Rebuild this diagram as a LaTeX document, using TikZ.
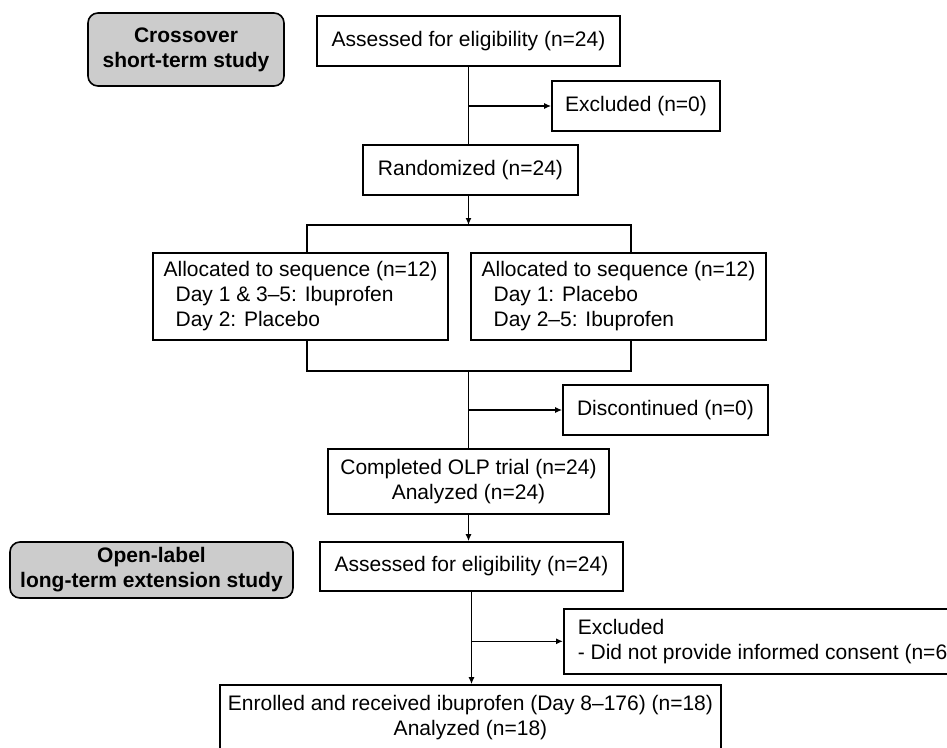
\documentclass[tikz,border=0pt]{standalone}
\usepackage{fontspec}
\setmainfont{Liberation Sans}
\usetikzlibrary{arrows.meta}

\begin{document}
\begin{tikzpicture}[x=1pt, y=-1pt, >={Latex[length=7pt,width=6pt]}, line width=1.6pt,
	box/.style={draw, rectangle, inner sep=0pt, align=center, font=\fontsize{21}{25}\selectfont},
	studybox/.style={box, rounded corners=10pt, fill=black!20, font=\bfseries\fontsize{21}{25}\selectfont}]
		%\draw [help lines] (0,0) grid (947,747);
		\useasboundingbox (0,0) rectangle (947,747);
		% crossover part
		\node[studybox, minimum width=196pt, minimum height=73pt] (cross) at (186,49.5) {Crossover\\short-term study};
		\node[box, minimum width=303pt, minimum height=50pt] (assess1) at (468.5,41) {Assessed for eligibility (n=24)};
		\node[box, minimum width=168pt, minimum height=50pt] (excl1) at (636,106) {Excluded (n=0)};
		\node[box, minimum width=215pt, minimum height=50pt] (rand) at (470.5,170) {Randomized (n=24)};
		\node[box, minimum width=295pt, minimum height=87pt, align=left] (seqA) at (300.5,296.5) {Allocated to sequence (n=12)\\\hspace*{12pt}Day 1 \& 3--5: Ibuprofen\\\hspace*{12pt}Day 2: Placebo};
		\node[box, minimum width=295pt, minimum height=87pt, align=left] (seqB) at (618.5,296.5) {Allocated to sequence (n=12)\\\hspace*{12pt}Day 1: Placebo\\\hspace*{12pt}Day 2--5: Ibuprofen};
		\node[box, minimum width=205pt, minimum height=50pt] (disc) at (665.5,410) {Discontinued (n=0)};
		\node[box, minimum width=281pt, minimum height=65pt] (done) at (468.5,481.5) {Completed OLP trial (n=24)\\Analyzed (n=24)};
		% extension part
		\node[studybox, minimum width=283pt, minimum height=56pt] (open) at (151.5,570) {Open-label\\long-term extension study};
		\node[box, minimum width=303pt, minimum height=49pt] (assess2) at (471.5,566.5) {Assessed for eligibility (n=24)};
		\node[box, anchor=north west, inner xsep=14pt, minimum height=65pt, align=left] (excl2) at (563,608) {Excluded\\- Did not provide informed consent (n=6)};
		\node[box, minimum width=501pt, minimum height=65pt] (enrol) at (470.5,717.5) {Enrolled and received ibuprofen (Day 8--176) (n=18)\\Analyzed (n=18)};

		\coordinate (tl) at (307,225);
		\coordinate (tr) at (631,225);
		\coordinate (bl) at (307,371);
		\coordinate (br) at (631,371);

		\draw (assess1.south) -- (assess1.south |- rand.north);
		\draw[->] (assess1.south |- excl1.west) -- (excl1.west);
		\draw[->] (assess1.south |- rand.south) -- (assess1.south |- tl);
		\draw (seqA.north -| tl) -- (tl) -- (tr) -- (seqB.north -| tr);
		\draw (seqA.south -| bl) -- (bl) -- (br) -- (seqB.south -| br);
		\draw (done.north |- bl) -- (done.north);
		\draw[->] (done.north |- disc.west) -- (disc.west);
		\draw[->] (done.south) -- (done.south |- assess2.north);
		\draw[->] (assess2.south) -- (assess2.south |- enrol.north);
		\draw[->] (assess2.south |- excl2.west) -- (excl2.west);
	\end{tikzpicture}
\end{document}
